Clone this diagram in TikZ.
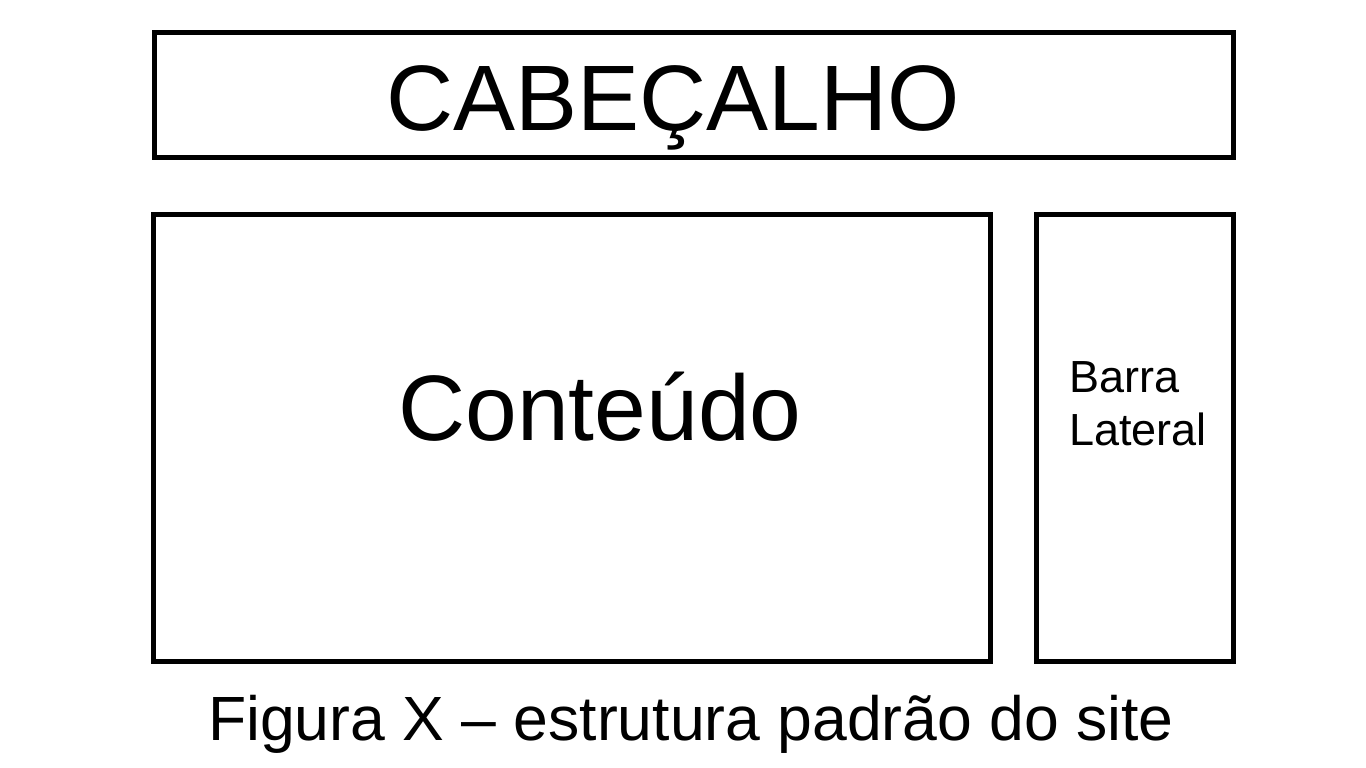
\documentclass[tikz,border=0pt]{standalone}
\usepackage{fontspec}
\setmainfont{Liberation Sans}
\usetikzlibrary{positioning}
\tikzset{
	frame/.style   = {draw=black, rectangle, line width=5pt, inner sep=0pt},
	bigtext/.style = {font=\fontsize{93}{100}\selectfont, inner sep=0pt},
	sidetext/.style= {font=\fontsize{45}{53}\selectfont, inner sep=0pt, align=left},
	captext/.style = {font=\fontsize{62.5}{70}\selectfont, inner sep=0pt}
}
\begin{document}
\begin{tikzpicture}[x=1pt, y=-1pt]
	\useasboundingbox (0,0) rectangle (1366,768);
	\node (header)  [frame, minimum width=1079.5pt, minimum height=124pt] at (693.75,95) {};
	\node (content) [frame, minimum width=836.5pt, minimum height=447pt] at (572,438) {};
	\node (sidebar) [frame, minimum width=197pt, minimum height=447pt] at (1134.5,438) {};

	\node (headtxt) [bigtext, anchor=base] at (673,130) {CABEÇALHO};
	\node (conttxt) [bigtext, anchor=base] at (600,440) {Conteúdo};
	\node (sidetxt) [sidetext, anchor=base west] at (1069,445) {Barra\\Lateral};
	\node (caption) [captext, anchor=base] at (691,740) {Figura X – estrutura padrão do site};
\end{tikzpicture}
\end{document}
